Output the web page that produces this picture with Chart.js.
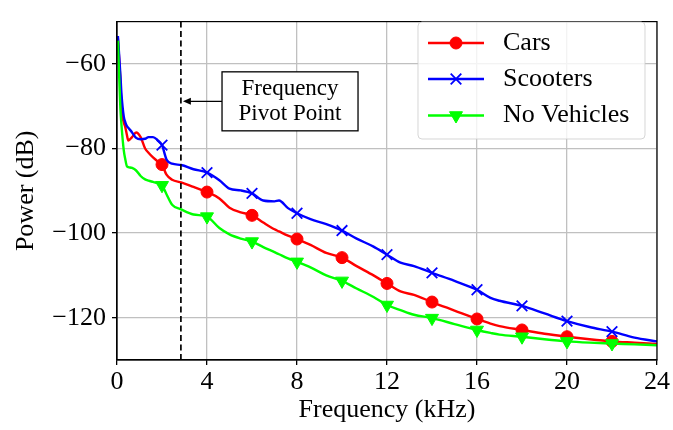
<!DOCTYPE html>
<html>
<head>
<meta charset="utf-8">
<script src="https://cdn.jsdelivr.net/npm/chart.js@4.4.0/dist/chart.umd.min.js"></script>
<style>
  html, body { margin: 0; padding: 0; background: #fff; }
  #wrap { width: 673px; height: 430px; }
</style>
</head>
<body>
<div id="wrap"><canvas id="Chart" width="673" height="430"></canvas></div>
<script>
// Spectra (kHz / dB)
const freqs = [0.04, 0.15, 0.2, 0.3, 0.37, 0.44, 0.5, 0.67, 0.85, 1.05, 1.25, 1.4, 1.6, 1.8, 2,
    2.2, 2.45, 2.85, 3.4, 4, 4.55, 5, 5.5, 6, 6.5, 7, 7.2, 7.6, 8, 8.6, 9.3, 10, 10.65, 11.4, 12,
    12.6, 13.2, 14, 15, 16, 16.6, 17, 18, 19, 20, 21, 22, 23, 24]
const cars = [-54, -64, -70.5, -73.8, -75, -76.8, -78.1, -77.3, -76.2, -77.3, -80, -81, -82.1, -83, -83.8,
    -86.2, -87.4, -88, -89.1, -90.3, -91.8, -94, -95.1, -95.8, -97.5, -99.1, -99.6, -100.6, -101.4, -102.8, -104.7, -105.8, -107.8, -110, -111.9,
    -113.8, -114.6, -116.3, -118.3, -120.3, -121.4, -122, -122.9, -123.8, -124.5, -125.1, -125.6, -125.9, -126.2]
const scooters = [-53.4, -62.5, -67.2, -72.4, -73.8, -74.7, -75.1, -76.2, -77.5, -77.8, -77.7, -77.3, -77.3, -78, -79.2,
    -82.6, -83.6, -83.9, -84.9, -85.7, -87.5, -89.5, -89.9, -90.6, -92.3, -92.5, -92.3, -94.1, -95.3, -96.7, -97.9, -99.4, -101.3, -103.2, -105.1,
    -107, -107.8, -109.4, -111.3, -113.4, -115.3, -116, -117.2, -119, -120.8, -122.2, -123.3, -124.7, -125.6]
const noVehicles = [-54.5, -70.5, -74.5, -80.4, -82.6, -84.2, -84.4, -84.6, -85.2, -86.5, -87.3, -87.6, -87.9, -88.2, -88.7,
    -90.8, -93.3, -94.4, -95.6, -96.1, -98.8, -100.3, -101.3, -102, -103.3, -104.5, -105, -106, -106.8, -108.1, -110, -111.3, -113.1, -115.1, -117,
    -118.2, -119.3, -120.1, -121.5, -122.9, -123.6, -124, -124.5, -125.1, -125.6, -125.9, -126.1, -126.3, -126.5]
const markerFreqs = [2, 4, 6, 8, 10, 12, 14, 16, 18, 20, 22]
const xTicks = [0, 4, 8, 12, 16, 20, 24]
const yTicks = [-120, -100, -80, -60]
const pivotFreq = 2.84
const pivotLabel = ['Frequency', 'Pivot Point']

const serif = "'Liberation Serif', 'Times New Roman', serif"

// one entry per curve, same order as the legend
const series = [
    { label: 'Cars', values: cars, color: '#ff0000', style: 'circle', radius: 6, rotation: 0, order: 2 },
    { label: 'Scooters', values: scooters, color: '#0000ff', style: 'crossRot', radius: 7.5, rotation: 0, order: 1 },
    { label: 'No Vehicles', values: noVehicles, color: '#00ff00', style: 'triangle', radius: 7.5, rotation: 180, order: 0 }
]

function markerSize(s) {
    return function (ctx) {
        return markerFreqs.includes(freqs[ctx.dataIndex]) ? s.radius : 0
    }
}

// black box round the plot area
const framePlugin = {
    id: 'frame',
    afterDatasetsDraw(chart) {
        const a = chart.chartArea
        const ctx = chart.ctx
        ctx.save()
        ctx.strokeStyle = '#000'
        ctx.lineWidth = 1.2
        ctx.strokeRect(a.left, a.top, a.right - a.left, a.bottom - a.top)
        ctx.restore()
    }
}

// dashed pivot line with the boxed note and arrow
const pivotPlugin = {
    id: 'pivot',
    afterDatasetsDraw(chart) {
        const ctx = chart.ctx
        const a = chart.chartArea
        const xs = chart.scales.x
        const ys = chart.scales.y
        const px = xs.getPixelForValue(pivotFreq)
        ctx.save()
        ctx.strokeStyle = '#000'
        ctx.lineWidth = 1.7
        ctx.setLineDash([6, 3.5])
        ctx.beginPath()
        ctx.moveTo(px, a.top)
        ctx.lineTo(px, a.bottom)
        ctx.stroke()
        ctx.setLineDash([])

        const cx = xs.getPixelForValue(7.69)
        const cy = ys.getPixelForValue(-68.85)
        const w = 136, h = 59
        const left = cx - w / 2
        // arrow
        ctx.lineWidth = 1.4
        ctx.beginPath()
        ctx.moveTo(left, cy)
        ctx.lineTo(px + 6, cy)
        ctx.stroke()
        ctx.fillStyle = '#000'
        ctx.beginPath()
        ctx.moveTo(px + 2, cy)
        ctx.lineTo(px + 10, cy - 3.5)
        ctx.lineTo(px + 10, cy + 3.5)
        ctx.closePath()
        ctx.fill()
        // box
        ctx.fillStyle = '#fff'
        ctx.fillRect(left, cy - h / 2, w, h)
        ctx.lineWidth = 1.3
        ctx.strokeRect(left, cy - h / 2, w, h)
        ctx.fillStyle = '#000'
        ctx.font = '23px ' + serif
        ctx.textAlign = 'center'
        ctx.textBaseline = 'middle'
        ctx.fillText(pivotLabel[0], cx, cy - 12)
        ctx.fillText(pivotLabel[1], cx, cy + 13)
        ctx.restore()
    }
}

// matplotlib style legend: line with marker through it
const legendPlugin = {
    id: 'mplLegend',
    afterDraw(chart) {
        const ctx = chart.ctx
        const bx = 418, by = 22, bw = 227, bh = 117
        ctx.save()
        ctx.fillStyle = 'rgba(255,255,255,0.8)'
        ctx.strokeStyle = 'rgba(204,204,204,0.8)'
        ctx.lineWidth = 1
        ctx.beginPath()
        ctx.roundRect(bx, by, bw, bh, 4)
        ctx.fill()
        ctx.stroke()
        const rows = [43, 79, 115.5]
        series.forEach((s, i) => {
            const y = rows[i]
            ctx.strokeStyle = s.color
            ctx.fillStyle = s.color
            ctx.lineWidth = 2.4
            ctx.beginPath()
            ctx.moveTo(428, y)
            ctx.lineTo(484, y)
            ctx.stroke()
            ctx.lineWidth = s.style === 'crossRot' ? 1.8 : 1
            Chart.helpers.drawPoint(ctx, {
                pointStyle: s.style, radius: s.radius, rotation: s.rotation, borderWidth: ctx.lineWidth
            }, 456, y)
            ctx.fillStyle = '#000'
            ctx.font = '26px ' + serif
            ctx.textAlign = 'left'
            ctx.textBaseline = 'middle'
            ctx.fillText(s.label, 503, y)
        })
        ctx.restore()
    }
}

const ctx = document.getElementById('Chart').getContext('2d')
const myChart = new Chart(ctx, {
    type: 'line',
    data: {
        datasets: series.map(s => ({
            label: s.label,
            data: freqs.map((f, i) => ({ x: f, y: s.values[i] })),
            borderColor: s.color,
            backgroundColor: s.color,
            borderWidth: 2.4,
            fill: false,
            cubicInterpolationMode: 'monotone',
            pointStyle: s.style,
            pointRotation: s.rotation,
            pointRadius: markerSize(s),
            pointHoverRadius: markerSize(s),
            pointBorderWidth: s.style === 'crossRot' ? 1.8 : 1,
            order: s.order
        }))
    },
    options: {
        responsive: false,
        animation: false,
        devicePixelRatio: 1,
        layout: { padding: { top: 9, right: 16, left: 0, bottom: 0 } },
        plugins: {
            legend: { display: false },
            tooltip: { enabled: false }
        },
        scales: {
            x: {
                type: 'linear',
                min: 0,
                max: 24,
                afterBuildTicks: axis => { axis.ticks = xTicks.map(v => ({ value: v })) },
                afterFit: axis => { axis.height = 70 },
                grid: { color: '#c0c0c0', lineWidth: 1.3, tickColor: '#000', tickLength: 5 },
                border: { color: '#000', width: 1.2 },
                ticks: {
                    color: '#000',
                    padding: 2,
                    maxRotation: 0,
                    font: { family: serif, size: 26 }
                },
                title: {
                    display: true,
                    text: 'Frequency (kHz)',
                    color: '#000',
                    font: { family: serif, size: 26 },
                    padding: { top: 0, bottom: 4 }
                }
            },
            y: {
                type: 'linear',
                min: -130,
                max: -50,
                afterBuildTicks: axis => { axis.ticks = yTicks.map(v => ({ value: v })) },
                afterFit: axis => { axis.width = 117 },
                grid: { color: '#c0c0c0', lineWidth: 1.3, tickColor: '#000', tickLength: 5 },
                border: { color: '#000', width: 1.2 },
                ticks: {
                    color: '#000',
                    padding: 6,
                    font: { family: serif, size: 26 },
                    callback: v => (v < 0 ? '\u2212' : '') + Math.abs(v)
                },
                title: {
                    display: true,
                    text: 'Power (dB)',
                    color: '#000',
                    font: { family: serif, size: 26 },
                    padding: { top: 11, bottom: 0 }
                }
            }
        }
    },
    plugins: [framePlugin, pivotPlugin, legendPlugin]
})
</script>
</body>
</html>
